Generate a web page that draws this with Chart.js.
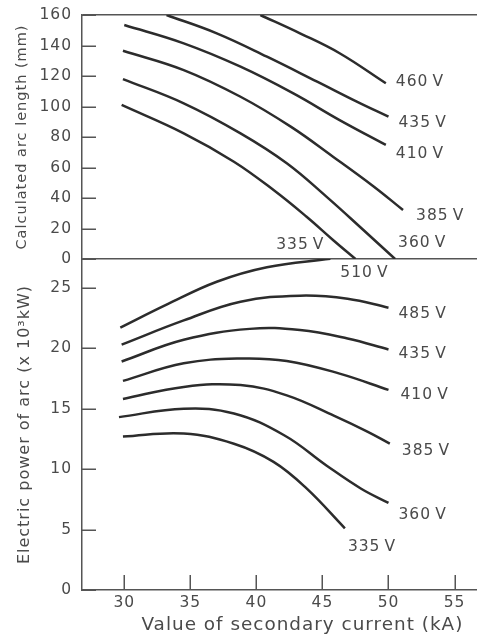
<!DOCTYPE html>
<html>
<head>
<meta charset="utf-8">
<script src="https://cdn.jsdelivr.net/npm/chart.js@4/dist/chart.umd.min.js"></script>
<style>
  html, body { margin: 0; padding: 0; background: #ffffff; }
  #wrap { position: relative; width: 477px; height: 640px; }
</style>
</head>
<body>
<div id="wrap"><canvas id="chart"></canvas></div>
<script>
// Tick values of the shared current axis and of the two stacked value axes
const currentTicks = [30, 35, 40, 45, 50, 55];
const arcTicks = [0, 20, 40, 60, 80, 100, 120, 140, 160];
const powerTicks = [0, 5, 10, 15, 20, 25];

// Calculated arc length (mm) against secondary current (kA), one curve per tap voltage
const arcVoltages = ['335\u2009V', '360\u2009V', '385\u2009V', '410\u2009V', '435\u2009V', '460\u2009V'];
const arc335 = [[29.8, 101], [34.5, 82.4], [38.3, 63.8], [41.3, 45.2], [43.8, 27.7], [45.8, 12.5], [47.5, 0]];
const arc360 = [[29.9, 118], [34.5, 102.1], [38.8, 82.4], [42.3, 62.8], [45.3, 40.9], [48.1, 19], [50.5, 0]];
const arc385 = [[29.9, 136.6], [34.5, 123.9], [38.8, 106.4], [42.6, 86.8], [45.8, 67.1], [48.9, 47.4], [51.1, 32.1]];
const arc410 = [[30.0, 153.4], [34.5, 141.4], [38.8, 126.1], [42.8, 108.6], [46.3, 91.1], [49.8, 74.8]];
const arc435 = [[33.2, 160], [37.0, 148], [40.8, 132.7], [44.6, 116.3], [47.6, 103.2], [50.0, 93.3]];
const arc460 = [[40.3, 160], [43.3, 148], [46.3, 134.9], [49.8, 115.2]];

// Electric power of the arc (x 10^3 kW) against secondary current (kA)
const powerVoltages = ['335\u2009V', '360\u2009V', '385\u2009V', '410\u2009V', '435\u2009V', '485\u2009V', '510\u2009V'];
const power335 = [[29.9, 12.7], [34.5, 12.95], [38.3, 12.1], [41.3, 10.6], [43.8, 8.4], [46.7, 5.1]];
const power360 = [[29.6, 14.3], [34.5, 15.0], [38.3, 14.6], [42.1, 12.8], [45.3, 10.3], [47.9, 8.4], [50.0, 7.2]];
const power385 = [[29.9, 15.8], [34.5, 16.8], [38.8, 16.95], [42.3, 16.1], [45.9, 14.4], [48.4, 13.1], [50.1, 12.1]];
const power410 = [[29.9, 17.3], [34.5, 18.75], [38.8, 19.15], [42.3, 18.95], [46.3, 17.9], [50.0, 16.55]];
const power435 = [[29.8, 18.9], [34.5, 20.7], [39.5, 21.6], [43.3, 21.5], [46.9, 20.8], [50.0, 19.9]];
const power485 = [[29.8, 20.3], [34.5, 22.3], [38.8, 23.85], [43.3, 24.35], [46.9, 24.1], [50.0, 23.35]];
const power510 = [[29.7, 21.7], [33.2, 23.6], [37.0, 25.5], [40.8, 26.7], [45.6, 27.4]];

// Where each curve's voltage label sits relative to the curve's last point (pixels)
const arcLabelPlacement = [
  { dx: -31, dy: -14, align: 'right' },
  { dx: 3, dy: -16, align: 'left' },
  { dx: 13, dy: 6, align: 'left' },
  { dx: 10, dy: 9, align: 'left' },
  { dx: 10, dy: 6, align: 'left' },
  { dx: 10, dy: -1, align: 'left' }
];
const powerLabelPlacement = [
  { dx: 3, dy: 19, align: 'left' },
  { dx: 10, dy: 12, align: 'left' },
  { dx: 12, dy: 7, align: 'left' },
  { dx: 12, dy: 5, align: 'left' },
  { dx: 10, dy: 5, align: 'left' },
  { dx: 10, dy: 6, align: 'left' },
  { dx: 10, dy: 14, align: 'left' }
];

const INK = '#2c2c2c';
const TEXT = '#4a4a4a';
const AXIS = '#555555';
const FONT = '"DejaVu Sans", "Liberation Sans", sans-serif';

const toPoints = rows => rows.map(([x, y]) => ({ x, y }));

function curve(label, rows, axisId, placement) {
  return {
    label,
    data: toPoints(rows),
    yAxisID: axisId,
    borderColor: INK,
    borderWidth: 2.5,
    pointRadius: 0,
    fill: false,
    tension: 0.4,
    labelPlacement: placement
  };
}

const arcSeries = [arc335, arc360, arc385, arc410, arc435, arc460];
const powerSeries = [power335, power360, power385, power410, power435, power485, power510];

const datasets = [
  ...arcSeries.map((rows, i) => curve(arcVoltages[i], rows, 'yArc', arcLabelPlacement[i])),
  ...powerSeries.map((rows, i) => curve(powerVoltages[i], rows, 'yPower', powerLabelPlacement[i]))
];

// Slightly tracked lettering, as in the printed figure
const lettering = {
  id: 'lettering',
  beforeUpdate(chart) { chart.ctx.letterSpacing = '1px'; },
  beforeDraw(chart) { chart.ctx.letterSpacing = '1px'; }
};

// Tick marks pointing into the plot: rightwards from the value axes, upwards from the current axis
const inwardTicks = {
  id: 'inwardTicks',
  beforeDatasetsDraw(chart) {
    const ctx = chart.ctx;
    ctx.save();
    ctx.strokeStyle = AXIS;
    ctx.lineWidth = 1.5;
    ctx.beginPath();
    ['yArc', 'yPower'].forEach(id => {
      const s = chart.scales[id];
      s.ticks.forEach(t => {
        const y = Math.round(s.getPixelForValue(t.value)) + 0.25;
        ctx.moveTo(s.right, y);
        ctx.lineTo(s.right + 14, y);
      });
    });
    const sx = chart.scales.x;
    sx.ticks.forEach(t => {
      const x = Math.round(sx.getPixelForValue(t.value)) + 0.25;
      ctx.moveTo(x, sx.top);
      ctx.lineTo(x, sx.top - 15);
    });
    ctx.stroke();
    ctx.restore();
  }
};

// Voltage labels written next to the end of each curve
const curveLabels = {
  id: 'curveLabels',
  afterDatasetsDraw(chart) {
    const ctx = chart.ctx;
    ctx.save();
    ctx.font = '15.5px ' + FONT;
    ctx.fillStyle = TEXT;
    ctx.textBaseline = 'middle';
    chart.data.datasets.forEach((ds, i) => {
      const pts = chart.getDatasetMeta(i).data;
      const last = pts[pts.length - 1];
      const p = ds.labelPlacement;
      ctx.textAlign = p.align;
      ctx.fillText(ds.label, last.x + p.dx, last.y + p.dy);
    });
    ctx.restore();
  }
};

function fixedWidth(w) {
  return s => { s.width = w; s.paddingTop = 0; s.paddingBottom = 0; s.paddingLeft = 0; s.paddingRight = 0; };
}

const valueAxisCommon = {
  type: 'linear',
  position: 'left',
  stack: 'panels',
  offset: false,
  border: { display: true, color: AXIS, width: 1.5 },
  ticks: {
    color: TEXT,
    font: { family: FONT, size: 15.5 },
    padding: 10,
    autoSkip: false
  },
  afterFit: fixedWidth(82)
};

new Chart(document.getElementById('chart'), {
  type: 'line',
  data: { datasets },
  plugins: [lettering, inwardTicks, curveLabels],
  options: {
    responsive: true,
    maintainAspectRatio: false,
    animation: false,
    events: [],
    layout: { padding: { top: 15, right: 0, bottom: 0, left: 0 } },
    plugins: { legend: { display: false }, tooltip: { enabled: false } },
    scales: {
      x: {
        type: 'linear',
        position: 'bottom',
        min: 26.8,
        max: 56.7,
        afterBuildTicks: s => { s.ticks = currentTicks.map(value => ({ value })); },
        border: { display: true, color: AXIS, width: 1.5 },
        grid: { drawOnChartArea: false, drawTicks: false },
        ticks: { color: TEXT, font: { family: FONT, size: 15.5 }, padding: 4, maxRotation: 0, autoSkip: false },
        title: {
          display: true,
          text: 'Value of secondary current (kA)\u00a0\u00a0',
          align: 'end',
          color: TEXT,
          font: { family: FONT, size: 18.4 },
          padding: { top: 0, bottom: 4 }
        },
        afterFit: s => { s.height = 50; s.paddingLeft = 0; s.paddingRight = 0; }
      },
      // listed first so it is placed lowest in the left-hand stack
      yPower: {
        ...valueAxisCommon,
        stackWeight: 331,
        min: 0,
        max: 27.38,
        afterBuildTicks: s => { s.ticks = powerTicks.map(value => ({ value })); },
        grid: { drawOnChartArea: false, drawTicks: false },
        title: {
          display: true,
          text: 'Electric power of arc (x 10³kW)',
          color: TEXT,
          font: { family: FONT, size: 16 },
          padding: { top: 15, bottom: 0 }
        }
      },
      yArc: {
        ...valueAxisCommon,
        stackWeight: 244,
        min: 0,
        max: 160,
        afterBuildTicks: s => { s.ticks = arcTicks.map(value => ({ value })); },
        grid: {
          drawOnChartArea: true,
          drawTicks: false,
          lineWidth: 1.5,
          // only the frame lines at 0 and 160 run across the panel
          color: c => (c.tick && (c.tick.value === 0 || c.tick.value === 160)) ? AXIS : 'rgba(0,0,0,0)'
        },
        title: {
          display: true,
          text: 'Calculated arc length (mm)',
          color: TEXT,
          font: { family: FONT, size: 14.5 },
          padding: { top: 14, bottom: 0 }
        }
      }
    }
  }
});
</script>
</body>
</html>
